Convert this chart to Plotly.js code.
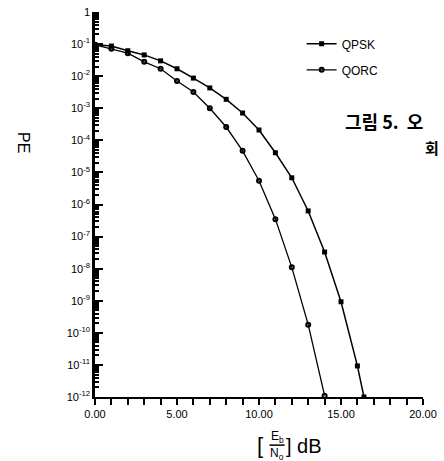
<!DOCTYPE html>
<html>
<head>
<meta charset="utf-8">
<script src="https://cdn.plot.ly/plotly-3.0.1.min.js"></script>
<style>html,body{margin:0;padding:0;background:#fff;}#chart{width:444px;height:461px;}</style>
</head>
<body>
<div id="chart"></div>
<script>
// Eb/No in dB
const ebnoQPSK = [0,1,2,3,4,5,6,7,8,9,10,11,12,13,14,15,16,16.4];
const peQPSK   = [9.5e-2,8.7e-2,6.2e-2,4.6e-2,3.0e-2,1.7e-2,8.7e-3,4.3e-3,1.9e-3,7.1e-4,2.1e-4,4.1e-5,6.8e-6,6.3e-7,3.3e-8,9.3e-10,9.3e-12,1.0e-12];
const ebnoQORC = [0,1,2,3,4,5,6,7,8,9,10,11,12,13,14];
const peQORC   = [9.5e-2,7.1e-2,5.2e-2,2.8e-2,1.7e-2,7.1e-3,3.2e-3,1.0e-3,2.6e-4,4.7e-5,5.5e-6,3.5e-7,1.1e-8,1.8e-10,1.1e-12];
const seriesNames = ["QPSK","QORC"];
const yTickVals = [1,1e-1,1e-2,1e-3,1e-4,1e-5,1e-6,1e-7,1e-8,1e-9,1e-10,1e-11,1e-12];
const yTickText = ["1","10<sup>-1</sup>","10<sup>-2</sup>","10<sup>-3</sup>","10<sup>-4</sup>","10<sup>-5</sup>","10<sup>-6</sup>","10<sup>-7</sup>","10<sup>-8</sup>","10<sup>-9</sup>","10<sup>-10</sup>","10<sup>-11</sup>","10<sup>-12</sup>"];

const font = "Liberation Sans";
const traces = [
  {x: ebnoQPSK, y: peQPSK, name: seriesNames[0], mode: "lines+markers", legendgroup: "a",
   line: {color: "#000", width: 1.5}, marker: {symbol: "square", size: 5, color: "#000"}},
  {x: ebnoQORC, y: peQORC, name: seriesNames[1], mode: "lines+markers", legendgroup: "b",
   line: {color: "#000", width: 1.3}, marker: {symbol: "circle-open", size: 4, color: "#000", line: {width: 2}}}
];
const layout = {
  width: 444, height: 461,
  margin: {l: 95, r: 21, t: 12, b: 64},
  font: {family: font, color: "#000", size: 11},
  showlegend: true,
  legend: {x: 0.63, y: 0.955, xanchor: "left", yanchor: "top", bgcolor: "rgba(0,0,0,0)",
           font: {family: font, size: 12, color: "#000"}, tracegroupgap: 7},
  xaxis: {range: [0, 20], dtick: 5, tick0: 0, tickformat: ".2f",
          showgrid: false, zeroline: false,
          showline: true, linecolor: "black", linewidth: 2,
          ticks: "outside", ticklen: 6, tickwidth: 2, tickcolor: "black",
          minor: {ticks: "outside", ticklen: 6, tickwidth: 2, tickcolor: "black", dtick: 1}},
  yaxis: {type: "log", range: [-12, 0], tickmode: "array", tickvals: yTickVals, ticktext: yTickText,
          gridcolor: "rgba(0,0,0,0)", showline: true, linecolor: "black", linewidth: 2.5,
          ticks: "inside", ticklen: 8, tickwidth: 2, tickcolor: "black",
          minor: {ticks: "inside", ticklen: 4, tickwidth: 1.5, tickcolor: "black", dtick: "D1", gridcolor: "rgba(0,0,0,0)"},
          tickfont: {family: font, size: 11, color: "#000"}},
  annotations: [
    {xref: "paper", yref: "paper", x: -0.22, y: 0.66, xanchor: "center", yanchor: "middle", text: "PE", textangle: 90, showarrow: false,
     font: {family: font, size: 16, color: "#000"}},
    {xref: "paper", yref: "paper", x: 0.503, y: -0.127, xanchor: "center", yanchor: "middle", text: "[", showarrow: false, font: {family: font, size: 22, color: "#000"}},
    {xref: "paper", yref: "paper", x: 0.555, y: -0.104, xanchor: "center", yanchor: "middle", text: "E<sub>b</sub>", showarrow: false, font: {family: font, size: 12, color: "#000"}},
    {xref: "paper", yref: "paper", x: 0.555, y: -0.147, xanchor: "center", yanchor: "middle", text: "N<sub>o</sub>", showarrow: false, font: {family: font, size: 12, color: "#000"}},
    {xref: "paper", yref: "paper", x: 0.577, y: -0.127, xanchor: "left", yanchor: "middle", text: "] dB", showarrow: false, font: {family: font, size: 20, color: "#000"}},
    {xref: "paper", yref: "paper", x: 0.756, y: 0.718, xanchor: "left", yanchor: "middle", text: "<b>그림 5.&nbsp;&nbsp;오</b>", showarrow: false,
     font: {family: "Noto Sans CJK KR", size: 18, color: "#000"}},
    {xref: "paper", yref: "paper", x: 1.0, y: 0.648, xanchor: "left", yanchor: "middle", text: "<b>회</b>", showarrow: false,
     font: {family: "Noto Sans CJK KR", size: 15, color: "#000"}}
  ],
  shapes: [
    {type: "line", xref: "paper", yref: "paper", x0: 0.532, x1: 0.578, y0: -0.125, y1: -0.125, line: {color: "#000", width: 1.5}}
  ]
};
Plotly.newPlot("chart", traces, layout, {displayModeBar: false});
</script>
</body>
</html>
